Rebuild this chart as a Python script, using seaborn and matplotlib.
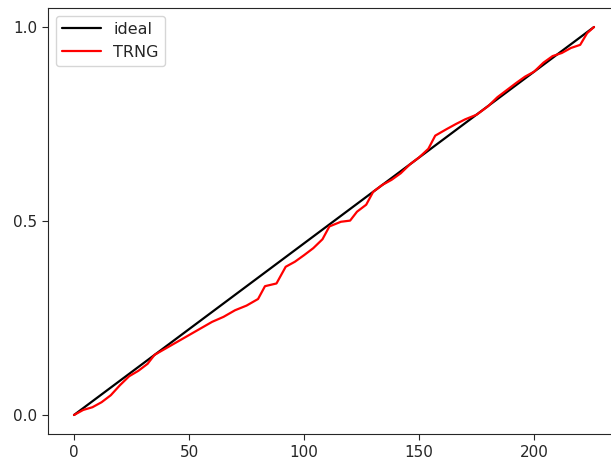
import matplotlib
matplotlib.use("Agg")
import matplotlib.pyplot as plt
import seaborn as sns
import pandas as pd

ideal_x = [0, 226]
ideal_y = [0.0, 1.0]

trng_x = [0, 4, 8, 12, 16, 20, 24, 28, 32, 35, 40, 45, 50, 55, 60, 65, 70, 75, 80,
          83, 88, 92, 96, 100, 104, 108, 111, 116, 120, 123, 127, 130, 134, 138,
          142, 146, 150, 154, 157, 162, 166, 170, 175, 180, 184, 188, 192, 196,
          200, 204, 208, 212, 216, 220, 223, 226]
trng_y = [0.0, 0.013, 0.020, 0.033, 0.051, 0.077, 0.100, 0.114, 0.132, 0.155,
          0.172, 0.189, 0.206, 0.223, 0.240, 0.253, 0.270, 0.282, 0.299, 0.332,
          0.339, 0.382, 0.395, 0.412, 0.430, 0.453, 0.486, 0.498, 0.501, 0.524,
          0.542, 0.575, 0.593, 0.606, 0.623, 0.646, 0.664, 0.686, 0.720, 0.737,
          0.750, 0.762, 0.774, 0.796, 0.819, 0.837, 0.855, 0.872, 0.885, 0.908,
          0.925, 0.933, 0.946, 0.954, 0.984, 1.0]

y_ticks = [0.0, 0.5, 1.0]
y_tick_labels = ["0.0", "0.5", "1.0"]
x_ticks = [0, 50, 100, 150, 200]

sns.set_style("ticks")
plt.rcParams['font.family'] = ['DejaVu Sans']

fig = plt.figure(figsize=(6.11, 4.68), dpi=100)
ax = fig.add_axes([48 / 611, (468 - 434.4) / 468, 572 / 611, (434.4 - 7.6) / 468])

ideal_df = pd.DataFrame({"x": ideal_x, "y": ideal_y})
trng_df = pd.DataFrame({"x": trng_x, "y": trng_y})

sns.lineplot(data=ideal_df, x="x", y="y", color="black", label="ideal", ax=ax, linewidth=1.6)
sns.lineplot(data=trng_df, x="x", y="y", color="red", label="TRNG", ax=ax, linewidth=1.6)

ax.set_xticks(x_ticks)
ax.set_yticks(y_ticks)
ax.set_yticklabels(y_tick_labels)
ax.set_xlabel("")
ax.set_ylabel("")
ax.tick_params(labelsize=11, length=4)
ax.legend(loc="upper left", fontsize=11.5, handlelength=2.4)

fig.savefig("out.png", dpi=100)
